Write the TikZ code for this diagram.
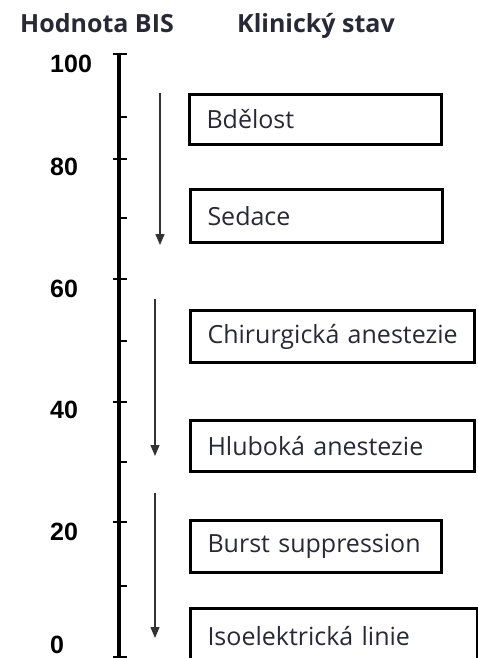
\documentclass[tikz,border=0pt]{standalone}
\usepackage{fontspec}
\setmainfont{Open Sans}
\newfontfamily\numfont{Liberation Sans}
\usetikzlibrary{arrows.meta}
\definecolor{textcol}{RGB}{40,40,55}

\begin{document}
\begin{tikzpicture}[x=1pt,y=-1pt,
  stav/.style={draw,line width=3pt,anchor=north west,inner xsep=17pt,inner ysep=0pt,
    align=left,font=\fontsize{25}{30}\selectfont,text=textcol},
  hlava/.style={anchor=base west,inner sep=0pt,font=\fontsize{25}{30}\selectfont\bfseries,text=textcol},
  cislo/.style={anchor=base west,inner sep=0pt,font=\numfont\fontsize{25}{30}\selectfont\bfseries}]
 \useasboundingbox (0,0) rectangle (477,658);
 % headers
 \node[hlava] (hbis) at (20,33) {Hodnota BIS};
 \node[hlava] (hstav) at (237,33) {Klinický stav};
 % axis
 \draw[line width=4pt](119,54)--(119,657);
 \draw[line width=2pt](113,54)--(127,54);
 \draw[line width=2pt](113,159)--(127,159);
 \draw[line width=2pt](113,279)--(127,279);
 \draw[line width=2pt](113,402)--(127,402);
 \draw[line width=2pt](113,522)--(127,522);
 \draw[line width=2pt](113,657)--(127,657);
 \draw[line width=1.5pt](119,117)--(127,117);
 \draw[line width=1.5pt](119,218)--(127,218);
 \draw[line width=1.5pt](119,341)--(127,341);
 \draw[line width=1.5pt](119,462)--(127,462);
 \draw[line width=1.5pt](119,586)--(127,586);
 \node[cislo] (n100) at (50,73) {100};
 \node[cislo] (n80) at (50,175) {80};
 \node[cislo] (n60) at (50,297) {60};
 \node[cislo] (n40) at (50,418) {40};
 \node[cislo] (n20) at (50,540) {20};
 \node[cislo] (n0) at (50,653) {0};
 % arrows
 \coordinate (a1) at (160,93);  \coordinate (b1) at (160,245);
 \coordinate (a2) at (155,299); \coordinate (b2) at (155,456);
 \coordinate (a3) at (155,493); \coordinate (b3) at (155,638);
 \draw[line width=1.4pt,black!80,-{Triangle[width=9pt,length=11pt]}](a1)--(b1);
 \draw[line width=1.4pt,black!80,-{Triangle[width=9pt,length=11pt]}](a2)--(b2);
 \draw[line width=1.4pt,black!80,-{Triangle[width=9pt,length=11pt]}](a3)--(b3);
 % states
 \node[stav,text width=218pt,minimum height=50pt] (bdelost) at (188,93) {\mbox{Bdělost}};
 \node[stav,text width=218pt,minimum height=53pt] (sedace) at (189,188) {\mbox{Sedace}};
 \node[stav,text width=250pt,minimum height=52pt] (chir) at (189,309) {\mbox{Chirurgická anestezie}};
 \node[stav,text width=250pt,minimum height=51pt] (hlub) at (189,419) {\mbox{Hluboká anestezie}};
 \node[stav,text width=217pt,minimum height=52pt] (burst) at (189,519) {\mbox{Burst suppression}};
 \node[stav,text width=253pt,minimum height=56pt] (iso) at (189,607) {\mbox{Isoelektrická linie}};
\end{tikzpicture}
\end{document}
